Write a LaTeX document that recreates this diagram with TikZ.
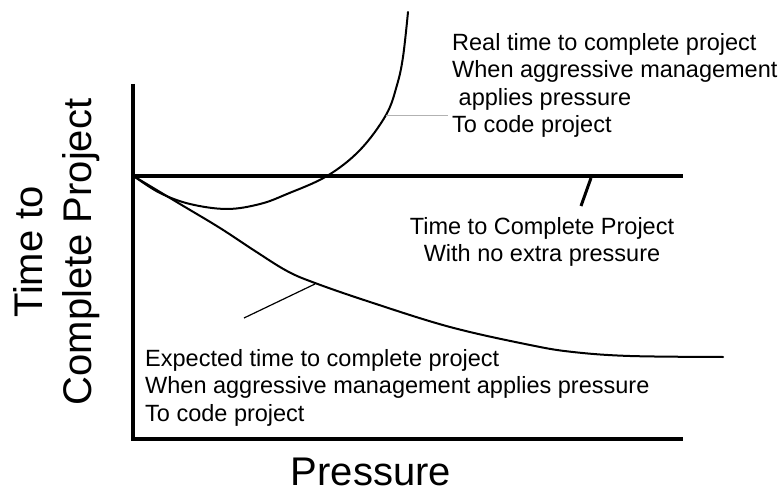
\documentclass[tikz,border=0pt]{standalone}
\usepackage{fontspec}
\setmainfont{Liberation Sans}

\tikzset{
  note/.style={font=\fontsize{23.5bp}{27.5bp}\selectfont, inner sep=0pt, align=left},
  axistext/.style={font=\fontsize{40bp}{49bp}\selectfont, inner sep=0pt, align=center},
  curve/.style={line width=2bp, line join=round, line cap=round},
}

\begin{document}
\begin{tikzpicture}[x=1bp,y=-1bp]
  \useasboundingbox (0,0) rectangle (780,491);

  % axes and the flat line
  \draw[line width=4.5bp] (133,84) -- (133,439) -- (683,439);
  \draw[line width=4bp] (133,176) -- (683,176);

  % real time curve
  \draw[curve] plot[smooth, tension=0.6] coordinates {
    (135,177) (160,193) (190,204) (227,209) (260,204) (287,194)
    (327,176) (360,150) (386,115) (397,85) (403,57) (408,12)};

  % expected time curve
  \draw[curve] plot[smooth, tension=0.6] coordinates {
    (135,177) (180,204) (220,228) (255,251) (287,271) (315,283)
    (370,302) (450,327) (530,345) (573,352) (630,356) (723,357)};

  \coordinate (realtip) at (386,115);
  \coordinate (flattip) at (591,178);
  \coordinate (expecttip) at (315,284);

  % base anchor sits on the last line
  \node[note, anchor=base west] (real) at (452,133)
    {Real time to complete project\\When aggressive management\\\ applies pressure\\To code project};
  \node[note, anchor=base, align=center] (flat) at (542,262)
    {Time to Complete Project\\With no extra pressure};
  \node[note, anchor=base west] (expect) at (145,421)
    {Expected time to complete project\\When aggressive management applies pressure\\To code project};

  \coordinate (realend) at (448,115);
  \coordinate (flatend) at (581,206);
  \coordinate (expectend) at (244,318);
  \draw[gray!60, line width=0.8bp] (realtip) -- (realend);
  \draw[line width=3bp] (flattip) -- (flatend);
  \draw[line width=1.2bp] (expecttip) -- (expectend);

  \node[axistext, rotate=90] (ylabel) at (57,252) {Time to\\Complete Project};
  \node[axistext, anchor=base] (xlabel) at (371,485) {Pressure};
\end{tikzpicture}
\end{document}
